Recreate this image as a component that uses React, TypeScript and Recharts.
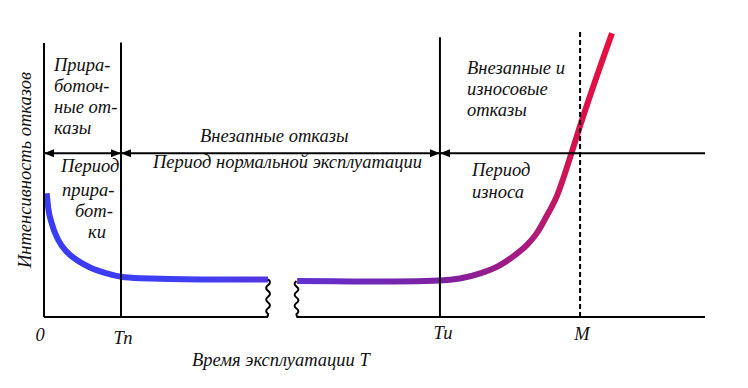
import React from "react";
import {
  ComposedChart,
  Line,
  XAxis,
  YAxis,
  ReferenceLine,
  ReferenceDot,
  Customized,
} from "recharts";

if (typeof document !== "undefined") {
  document.body.style.margin = "0";
}

// ---- data (time in % of the drawn span, intensity in % of the drawn height) ----
const curveTime = [
  0.41, 0.65, 1.16, 2.16, 3.43, 4.95, 6.96, 9.49, 11.69, 14.52, 23.6, 33.89,
  36.0,
  38.3, 46.3, 53.0, 59.9, 62.9, 66.0, 69.0, 70.95, 73.07, 74.58, 75.8, 77.6, 79.8, 81.09, 85.93,
];
const curveIntensity: (number | null)[] = [
  43.4, 38.1, 32.9, 27.0, 22.9, 20.0, 17.4, 15.3, 14.1, 13.6, 13.2, 13.2,
  null,
  12.6, 12.5, 12.5, 12.8, 13.5, 15.3, 18.2, 21.2, 25.3, 29.5, 34.4, 42.5, 57.5, 67.0, 99.6,
];

const T_N = 11.65;
const T_U = 59.9;
const M_T = 81.1;
const tickValues = [0, T_N, T_U, M_T];
const tickLabels = ["0", "Тп", "Ти", "М"];

const periodLevel = 57.5;
const breakStart = 33.9;
const breakEnd = 38.2;
const breakLevelLeft = 13.2;
const breakLevelRight = 12.6;
const axisTop = 96.1;
const tnTop = 96.3;
const tuTop = 98.2;
const mTop = 100;

const yAxisTitle = "Интенсивность отказов";
const xAxisTitle = "Время эксплуатации Т";
const earlyFailLines = ["Прира-", "боточ-", "ные от-", "казы"];
const earlyPeriodLines = ["Период", "прира-", "бот-", "ки"];
const normalFail = "Внезапные отказы";
const normalPeriod = "Период нормальной эксплуатации";
const wearFailLines = ["Внезапные и", "износовые", "отказы"];
const wearPeriodLines = ["Период", "износа"];

const data = curveTime.map((t, i) => ({ t, v: curveIntensity[i] }));

// ---- styles ----
const FONT = "Liberation Serif, DejaVu Serif";
const FS = 18.5;
const W = 748;
const H = 388;

const tp = {
  fontFamily: FONT,
  fontStyle: "italic",
  fontSize: FS,
  fill: "#111",
};

const tickPos: Record<string, { dx: number; y: number }> = {
  "0": { dx: -4, y: 341 },
  "Тп": { dx: 2, y: 344 },
  "Ти": { dx: 3, y: 339 },
  "М": { dx: 2, y: 340 },
};

const XTick = (props: any) => {
  const { x, payload } = props;
  const idx = tickValues.indexOf(payload.value);
  const label = tickLabels[idx] ?? "";
  const p = tickPos[label] ?? { dx: 0, y: 340 };
  return (
    <text x={x + p.dx} y={p.y} textAnchor="middle" {...tp}>
      {label}
    </text>
  );
};

const arrowShape = (dir: number) => (props: any) => {
  const { cx, cy } = props;
  const len = 10;
  const hw = 4;
  const d = `M${cx},${cy} L${cx - dir * len},${cy - hw} L${cx - dir * len},${cy + hw} Z`;
  return <path d={d} fill="#000" stroke="none" />;
};

const squiggle = (side: number) => (props: any) => {
  const { x1, y1, y2 } = props;
  const top = Math.min(y1, y2);
  const bottom = Math.max(y1, y2);
  const n = 6;
  const h = (bottom - top - 3) / n;
  const a = 3.8;
  let d = `M${x1},${top}`;
  for (let k = 0; k < n; k++) {
    const off = (k % 2 === 0 ? 1 : -1) * a * side;
    d += ` Q${x1 + off},${top + h * (k + 0.5)} ${x1},${top + h * (k + 1)}`;
  }
  d += ` Q${x1 + side * 0.5},${bottom} ${x1 - side * 3},${bottom}`;
  return <path d={d} fill="none" stroke="#000" strokeWidth={2} />;
};

const TextLayer = () => (
  <g>
    <text transform="translate(31,170) rotate(-90)" textAnchor="middle" {...tp}>
      {yAxisTitle}
    </text>
    <text x={192} y={366} {...tp}>
      {xAxisTitle}
    </text>
    {earlyFailLines.map((s, i) => (
      <text key={"ef" + i} x={54} y={71 + i * 21} {...tp}>
        {s}
      </text>
    ))}
    {earlyPeriodLines.map((s, i) => (
      <text key={"ep" + i} x={[61, 62, 75, 88][i]} y={[172, 196, 217, 238][i]} {...tp}>
        {s}
      </text>
    ))}
    <text x={200} y={142} {...tp}>
      {normalFail}
    </text>
    <text x={153} y={168} {...tp}>
      {normalPeriod}
    </text>
    {wearFailLines.map((s, i) => (
      <text key={"wf" + i} x={467} y={[74, 95, 116][i]} {...tp}>
        {s}
      </text>
    ))}
    {wearPeriodLines.map((s, i) => (
      <text key={"wp" + i} x={472} y={[176, 198][i]} {...tp}>
        {s}
      </text>
    ))}
  </g>
);

export default function App() {
  return (
    <div style={{ width: W, height: H, background: "#fff" }}>
      <ComposedChart
        width={W}
        height={H}
        data={data}
        margin={{ top: 32, right: 43, bottom: 41, left: 44 }}
      >
        <defs>
          <linearGradient id="curveGrad" x1="0" y1="0" x2="1" y2="0">
            <stop offset="0" stopColor="#3a3cf5" />
            <stop offset="0.27" stopColor="#3f3ff2" />
            <stop offset="0.39" stopColor="#5536e0" />
            <stop offset="0.45" stopColor="#6030d0" />
            <stop offset="0.70" stopColor="#8020a0" />
            <stop offset="0.80" stopColor="#9a1c8a" />
            <stop offset="0.87" stopColor="#b01a78" />
            <stop offset="0.93" stopColor="#d4124e" />
            <stop offset="1" stopColor="#e81040" />
          </linearGradient>
        </defs>
        <XAxis
          dataKey="t"
          type="number"
          domain={[0, 100]}
          ticks={tickValues}
          tick={<XTick />}
          axisLine={false}
          tickLine={false}
          height={30}
          interval={0}
          allowDataOverflow
        />
        <YAxis type="number" domain={[0, 100]} hide allowDataOverflow />
        <Line
          dataKey="v"
          type="monotone"
          stroke="url(#curveGrad)"
          strokeWidth={6}
          dot={false}
          activeDot={false}
          connectNulls={false}
          isAnimationActive={false}
        />
        <ReferenceLine segment={[{ x: 0, y: 0 }, { x: 0, y: axisTop }]} stroke="#000" strokeWidth={2} />
        <ReferenceLine segment={[{ x: 0, y: 0 }, { x: breakStart, y: 0 }]} stroke="#000" strokeWidth={2} />
        <ReferenceLine segment={[{ x: breakEnd, y: 0 }, { x: 100, y: 0 }]} stroke="#000" strokeWidth={2} />
        <ReferenceLine
          segment={[{ x: breakStart, y: breakLevelLeft }, { x: breakStart, y: 0 }]}
          shape={squiggle(1)}
        />
        <ReferenceLine
          segment={[{ x: breakEnd, y: breakLevelRight }, { x: breakEnd, y: 0 }]}
          shape={squiggle(-1)}
        />
        <ReferenceLine segment={[{ x: T_N, y: 0 }, { x: T_N, y: tnTop }]} stroke="#000" strokeWidth={2} />
        <ReferenceLine segment={[{ x: T_U, y: 0 }, { x: T_U, y: tuTop }]} stroke="#000" strokeWidth={2} />
        <ReferenceLine
          segment={[{ x: M_T, y: 0 }, { x: M_T, y: mTop }]}
          stroke="#000"
          strokeWidth={2}
          strokeDasharray="5 3"
        />
        <ReferenceLine
          segment={[{ x: 0, y: periodLevel }, { x: 100, y: periodLevel }]}
          stroke="#000"
          strokeWidth={2}
        />
        <ReferenceDot x={0} y={periodLevel} r={1} shape={arrowShape(-1)} />
        <ReferenceDot x={T_N} y={periodLevel} r={1} shape={arrowShape(1)} />
        <ReferenceDot x={T_N} y={periodLevel} r={1} shape={arrowShape(-1)} />
        <ReferenceDot x={T_U} y={periodLevel} r={1} shape={arrowShape(1)} />
        <ReferenceDot x={T_U} y={periodLevel} r={1} shape={arrowShape(-1)} />
        <Customized component={TextLayer} />
      </ComposedChart>
    </div>
  );
}
